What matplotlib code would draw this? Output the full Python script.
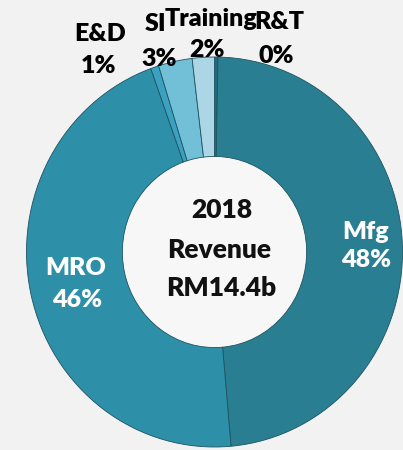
import numpy as np
import matplotlib.pyplot as plt

# revenue split 2018 (percent), clockwise from 12 o'clock
segmentos = ['R&T', 'Mfg', 'MRO', 'E&D', 'SI', 'Training']
valores = [0.3, 48.3, 45.9, 0.7, 2.9, 1.9]
rotulos = ['0%', '48%', '46%', '1%', '3%', '2%']
cores = ['#1f6b7c', '#2a7e92', '#2e8fa9', '#3aa2c0', '#72bfd8', '#acd5e5']

fig = plt.figure(figsize=(4.03, 4.5), dpi=100)
fig.patch.set_facecolor('#f2f2f2')
ax = fig.add_axes([0, 0, 1, 1])
ax.set_facecolor('#f2f2f2')

# ring is slightly wider than tall in the picture
cx, cy, rx, ry = 214.5, 252, 188, 195

wedges, _ = ax.pie(valores, colors=cores, startangle=90, counterclock=False,
                   radius=1, wedgeprops=dict(width=0.51, edgecolor='#1d5361', linewidth=0.6))
ax.add_patch(plt.Circle((0, 0), 0.49, color='#f7f7f7', zorder=0.5))
ax.set_aspect('auto')
ax.set_xlim(-cx / rx, (403 - cx) / rx)
ax.set_ylim((cy - 450) / ry, cy / ry)
ax.axis('off')

fonte = dict(family='Lato', weight='heavy', fontsize=18, ha='center', va='center')

def px(x, y):
    return (x - cx) / rx, (cy - y) / ry

# labels outside (top)
for nome, rot, pos_n, pos_v in [('E&D', '1%', (100, 34), (99, 66)),
                                 ('SI', '3%', (156, 24), (159, 59)),
                                 ('Training', '2%', (211, 19), (207, 50)),
                                 ('R&T', '0%', (279, 22), (276, 56))]:
    ax.text(*px(*pos_n), nome, color='black', **fonte)
    ax.text(*px(*pos_v), rot, color='black', **fonte)

# labels inside the ring
ax.text(*px(366, 232), 'Mfg', color='white', **fonte)
ax.text(*px(366, 260), '48%', color='white', **fonte)
ax.text(*px(76, 268), 'MRO', color='white', **fonte)
ax.text(*px(77, 300), '46%', color='white', **fonte)

# centre
centro = dict(fonte, fontsize=19)
ax.text(*px(222, 210), '2018', color='#111111', **centro)
ax.text(*px(219, 250), 'Revenue', color='#111111', **centro)
ax.text(*px(221, 288), 'RM14.4b', color='#111111', **centro)

plt.savefig('out.png', dpi=100, facecolor=fig.get_facecolor())
